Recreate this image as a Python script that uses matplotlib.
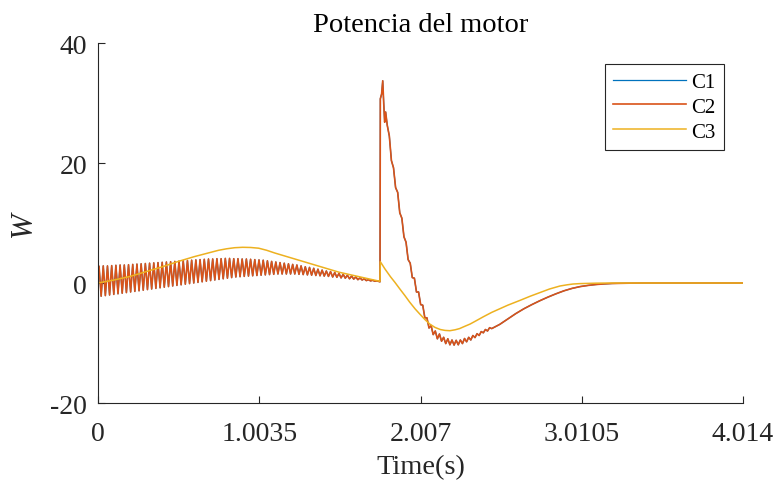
import numpy as np
import matplotlib
matplotlib.use("Agg")
import matplotlib.pyplot as plt

plt.rcParams["font.family"] = ["Liberation Serif", "DejaVu Serif"]

# Start-up phase: per-cycle maxima and minima of the motor power (W) for C1/C2
osc_peaks = [2.8, 2.85, 2.85, 2.9, 2.95, 3.0, 3.0, 3.05, 3.1, 3.15,
             3.2, 3.25, 3.3, 3.35, 3.4, 3.45, 3.5, 3.55, 3.6, 3.65,
             3.7, 3.75, 3.8, 3.85, 3.9, 3.95, 4.0, 4.0, 4.05, 4.05,
             4.1, 4.1, 4.05, 4.05, 4.0, 4.0, 3.95, 3.9, 3.85, 3.8,
             3.7, 3.6, 3.5, 3.4, 3.3, 3.2, 3.1, 3.0, 2.85, 2.7,
             2.6, 2.45, 2.3, 2.15, 2.0, 1.9, 1.75, 1.6, 1.45, 1.3,
             1.15, 1.0, 0.85, 0.7, 0.55, 0.45, 0.35]
osc_troughs = [-2.2, -2.1, -2.0, -1.9, -1.8, -1.7, -1.6, -1.5, -1.4, -1.3,
               -1.2, -1.1, -1.0, -0.9, -0.8, -0.7, -0.6, -0.5, -0.4, -0.3,
               -0.2, -0.1, 0.0, 0.1, 0.2, 0.3, 0.4, 0.5, 0.6, 0.7,
               0.8, 0.9, 1.0, 1.05, 1.1, 1.15, 1.2, 1.25, 1.3, 1.35,
               1.4, 1.45, 1.5, 1.5, 1.5, 1.5, 1.5, 1.45, 1.4, 1.35,
               1.3, 1.25, 1.2, 1.15, 1.1, 1.0, 0.95, 0.85, 0.8, 0.7,
               0.65, 0.55, 0.5, 0.4, 0.35, 0.3, 0.25]
osc_start_w = 0.3
t_switch = 1.755
switch_w = 0.2

# Transient after the load step (C1/C2)
step_t = [1.757, 1.765, 1.772, 1.778, 1.784, 1.790,
          1.800, 1.813, 1.826, 1.839, 1.852, 1.865, 1.878, 1.891, 1.904, 1.917,
          1.930, 1.943, 1.956, 1.969, 1.982, 1.995, 2.008, 2.021, 2.034, 2.047,
          2.060, 2.073, 2.086, 2.099, 2.112, 2.125, 2.138, 2.151, 2.164, 2.177,
          2.190, 2.203, 2.216, 2.229, 2.242, 2.255, 2.268, 2.281, 2.294, 2.307,
          2.320, 2.333, 2.346, 2.359, 2.372, 2.385, 2.398, 2.411, 2.424, 2.437,
          2.450, 2.50, 2.55, 2.60, 2.65, 2.70, 2.75, 2.80, 2.85, 2.90, 2.95,
          3.00, 3.05, 3.10, 3.15, 3.20, 3.30, 3.40, 4.014]
step_w = [30.7, 31.5, 33.7, 30.0, 26.8, 28.5,
          26.3, 24.5, 20.4, 19.2, 15.9, 15.1, 11.7, 10.8, 7.7, 6.8,
          3.9, 3.3, 0.9, 0.8, -1.5, -1.5, -3.6, -3.7, -5.8, -5.8,
          -7.5, -7.1, -8.6, -8.0, -9.3, -8.5, -9.7, -9.05, -10.1, -9.3,
          -10.3, -9.5, -10.35, -9.55, -10.3, -9.5, -10.1, -9.25, -9.8, -9.05,
          -9.5, -8.75, -9.1, -8.45, -8.75, -8.1, -8.3, -7.75, -8.0, -7.45,
          -7.6, -6.9, -6.0, -5.1, -4.3, -3.6, -2.95, -2.35, -1.8, -1.3, -0.9,
          -0.6, -0.4, -0.25, -0.15, -0.08, -0.03, 0.0, 0.0]

# C3 over the whole run
c3_t = [0.0, 0.1, 0.2, 0.3, 0.4, 0.5, 0.6, 0.7, 0.75, 0.8, 0.85, 0.9, 0.95,
        1.0, 1.05, 1.1, 1.2, 1.3, 1.4, 1.5, 1.6, 1.7, 1.755,
        1.757, 1.786, 1.82, 1.848, 1.88, 1.91, 1.94, 1.973, 2.00, 2.035,
        2.065, 2.097, 2.13, 2.159, 2.19, 2.222, 2.25, 2.284, 2.315, 2.346,
        2.40, 2.45, 2.50, 2.55, 2.626, 2.69, 2.75, 2.81, 2.875, 2.92, 2.956,
        3.0, 3.1, 3.2, 4.014]
c3_w = [0.0, 0.5, 1.1, 1.9, 2.7, 3.6, 4.4, 5.1, 5.45, 5.7, 5.88, 5.95, 5.92,
        5.8, 5.45, 5.0, 4.2, 3.4, 2.6, 1.8, 1.2, 0.6, 0.28,
        3.55, 2.33, 1.05, 0.1, -1.05, -2.1, -3.2, -4.3, -5.1, -6.1,
        -6.85, -7.4, -7.75, -7.9, -7.95, -7.8, -7.6, -7.2, -6.85, -6.4,
        -5.6, -4.9, -4.3, -3.7, -2.9, -2.2, -1.6, -1.0, -0.5, -0.3, -0.17,
        -0.1, -0.03, 0.0, 0.0]

x_ticks = [0, 1.0035, 2.007, 3.0105, 4.014]
x_tick_labels = ["0", "1.0035", "2.007", "3.0105", "4.014"]
y_ticks = [-20, 0, 20, 40]
y_tick_labels = ["-20", "0", "20", "40"]
series_names = ["C1", "C2", "C3"]

# Assemble the C1/C2 trace: alternating cycle extremes, then the step response
n_cyc = len(osc_peaks)
period = t_switch / n_cyc
t_pk = (np.arange(n_cyc) + 0.25) * period
t_tr = (np.arange(n_cyc) + 0.75) * period
t_osc = np.column_stack([t_pk, t_tr]).ravel()
w_osc = np.column_stack([osc_peaks, osc_troughs]).ravel()
c2_t = np.concatenate([[0.0], t_osc, [t_switch], step_t])
c2_w = np.concatenate([[osc_start_w], w_osc, [switch_w], step_w])
c1_t, c1_w = c2_t, c2_w

colors = ["#0072BD", "#D95319", "#EDB120"]
ink = "#262626"

fig = plt.figure(figsize=(7.82, 4.89), dpi=100)
ax = fig.add_axes([98 / 782, 1 - 404 / 489, 645 / 782, 360 / 489])

ax.plot(c1_t, c1_w, color=colors[0], lw=0.9, label=series_names[0])
ax.plot(c2_t, c2_w, color=colors[1], lw=1.2, label=series_names[1])
ax.plot(c3_t, c3_w, color=colors[2], lw=1.1, label=series_names[2])

ax.set_xlim(0, 4.014)
ax.set_ylim(-20, 40)
ax.set_xticks(x_ticks)
ax.set_xticklabels(x_tick_labels)
ax.set_yticks(y_ticks)
ax.set_yticklabels(y_tick_labels)

for side in ("top", "right"):
    ax.spines[side].set_visible(False)
for side in ("left", "bottom"):
    ax.spines[side].set_color(ink)
    ax.spines[side].set_linewidth(0.8)

ax.tick_params(direction="in", length=5, width=0.8, color=ink,
               labelsize=20, labelcolor=ink)
ax.tick_params(axis="y", pad=8)
ax.tick_params(axis="x", pad=13)

ax.set_title("Potencia del motor", fontsize=20.5, color="black", pad=9)
ax.set_xlabel("Time(s)", fontsize=20.5, color=ink, labelpad=6)
ax.set_ylabel("W", fontsize=22, style="italic", color=ink, labelpad=9)

leg = ax.legend(loc="upper right", bbox_to_anchor=((724 - 98) / 645, (404 - 65) / 360),
                borderaxespad=0, fontsize=15, handlelength=3.5, handletextpad=0.25,
                labelspacing=0.25, borderpad=0.4, fancybox=False, framealpha=1)
leg.get_frame().set_edgecolor(ink)
leg.get_frame().set_linewidth(0.8)

fig.savefig("out.png", dpi=100)
